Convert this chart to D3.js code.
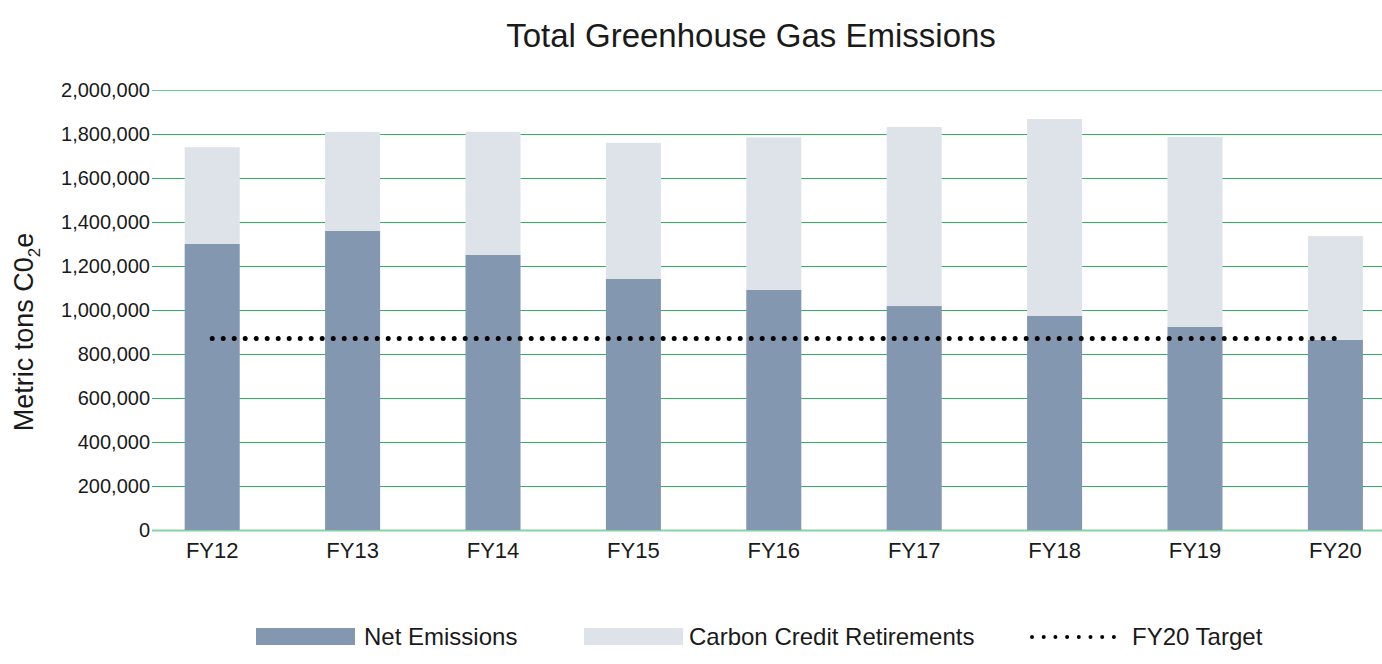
<!DOCTYPE html>
<html>
<head>
<meta charset="utf-8">
<script src="https://cdn.jsdelivr.net/npm/d3@7"></script>
<style>
  body { margin: 0; background: #fff; }
  svg { font-family: "Liberation Sans", Arial, Helvetica, sans-serif; }
  .y-grid .domain, .x-axis .domain { display: none; }
  .y-grid line { stroke: #2fb35e; stroke-width: 1.2; }
  .y-grid text { font-size: 20px; fill: #1a1a1a; }
  .x-axis text { font-size: 22px; fill: #1a1a1a; }
  .legend text { font-size: 24px; fill: #1a1a1a; }
</style>
</head>
<body>
<script>
// chart data
var years = ["FY12", "FY13", "FY14", "FY15", "FY16", "FY17", "FY18", "FY19", "FY20"];
var netEmissions = [1300000, 1360000, 1250000, 1141000, 1091000, 1018000, 973000, 923000, 864000];
var creditRetirements = [440000, 450000, 560000, 619000, 694000, 814000, 895000, 863000, 472000];
var target = 870000;
var yTicks = [0, 200000, 400000, 600000, 800000, 1000000, 1200000, 1400000, 1600000, 1800000, 2000000];

var svgWidth = 1382;
var svgHeight = 664;

// plot area
var margin = { top: 90, left: 152, right: 0, bottom: 134 };
var chartHeight = svgHeight - margin.top - margin.bottom;
var gridWidth = svgWidth - margin.left - margin.right;

var svg = d3.select("body")
  .append("svg")
  .attr("width", svgWidth)
  .attr("height", svgHeight);

var yScale = d3.scaleLinear()
  .domain([0, 2000000])
  .range([margin.top + chartHeight, margin.top]);

var step = 140.4;
var xScale = d3.scaleBand()
  .domain(years)
  .range([142, 142 + step * years.length])
  .paddingInner(0.608)
  .paddingOuter(0.304);

// grid lines + y labels
var yAxis = d3.axisLeft(yScale)
  .tickValues(yTicks)
  .tickSize(-gridWidth)
  .tickPadding(2)
  .tickFormat(d3.format(","));

var gridG = svg.append("g")
  .attr("class", "y-grid")
  .attr("transform", `translate(${margin.left}, 0)`)
  .call(yAxis);

gridG.selectAll(".tick")
  .filter(d => d === 0)
  .select("line")
  .style("stroke", "#84d3a4")
  .style("stroke-width", 2.2);

gridG.selectAll(".tick")
  .filter(d => d === 2000000)
  .select("line")
  .style("stroke", "#6cc98f");

// stacked bars
var rows = years.map((y, i) => ({ year: y, net: netEmissions[i], credit: creditRetirements[i] }));

svg.selectAll(".net")
  .data(rows)
  .enter()
  .append("rect")
  .attr("class", "net")
  .attr("x", d => xScale(d.year))
  .attr("width", xScale.bandwidth())
  .attr("y", d => yScale(d.net))
  .attr("height", d => yScale(0) - yScale(d.net))
  .attr("fill", "#8497b0");

svg.selectAll(".credit")
  .data(rows)
  .enter()
  .append("rect")
  .attr("class", "credit")
  .attr("x", d => xScale(d.year))
  .attr("width", xScale.bandwidth())
  .attr("y", d => yScale(d.net + d.credit))
  .attr("height", d => yScale(d.net) - yScale(d.net + d.credit))
  .attr("fill", "#dee3ea");

// target line
var targetLine = d3.line()
  .x(d => xScale(d) + xScale.bandwidth() / 2)
  .y(() => yScale(target));

svg.append("path")
  .datum(years)
  .attr("d", targetLine)
  .attr("fill", "none")
  .attr("stroke", "#000")
  .attr("stroke-width", 5)
  .attr("stroke-linecap", "round")
  .attr("stroke-dasharray", "0,11");

// x labels
var xAxis = d3.axisBottom(xScale).tickSize(0).tickPadding(12);
svg.append("g")
  .attr("class", "x-axis")
  .attr("transform", `translate(0, ${margin.top + chartHeight})`)
  .call(xAxis);

// title
svg.append("text")
  .attr("x", 751)
  .attr("y", 47)
  .attr("text-anchor", "middle")
  .style("font-size", "33px")
  .style("fill", "#1a1a1a")
  .text("Total Greenhouse Gas Emissions");

// y axis title
var yTitle = svg.append("text")
  .attr("transform", "translate(33, 332) rotate(-90)")
  .attr("text-anchor", "middle")
  .style("font-size", "27px")
  .style("fill", "#1a1a1a");
yTitle.append("tspan").text("Metric tons C0");
yTitle.append("tspan").attr("dy", 7).style("font-size", "17px").text("2");
yTitle.append("tspan").attr("dy", -7).text("e");

// legend
var legend = svg.append("g").attr("class", "legend");
legend.append("rect").attr("x", 256).attr("y", 628).attr("width", 99).attr("height", 17).attr("fill", "#8497b0");
legend.append("text").attr("x", 364).attr("y", 645).text("Net Emissions");
legend.append("rect").attr("x", 584).attr("y", 628).attr("width", 99).attr("height", 17).attr("fill", "#dee3ea");
legend.append("text").attr("x", 689).attr("y", 645).text("Carbon Credit Retirements");
legend.append("line")
  .attr("x1", 1032).attr("x2", 1114).attr("y1", 637).attr("y2", 637)
  .attr("stroke", "#000")
  .attr("stroke-width", 4)
  .attr("stroke-linecap", "round")
  .attr("stroke-dasharray", "0,11.7");
legend.append("text").attr("x", 1132).attr("y", 645).text("FY20 Target");
</script>
</body>
</html>
